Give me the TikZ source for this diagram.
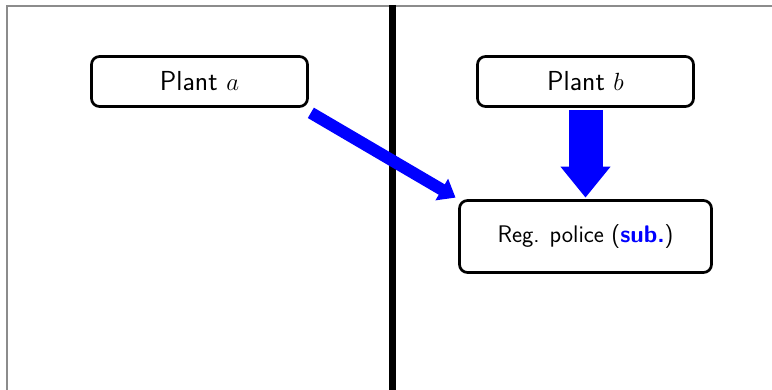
\documentclass[tikz,border=0pt]{standalone}
\usetikzlibrary{arrows.meta}
\renewcommand{\familydefault}{\sfdefault}
\begin{document}
\begin{tikzpicture}[x=1pt,y=-1pt,
  box/.style={draw=black, line width=2.7pt, rounded corners=8pt, fill=white,
              inner sep=0pt, align=center},
  plantbox/.style={box, minimum width=216pt, minimum height=50pt,
                   font=\fontsize{27.5}{33}\selectfont},
  policebox/.style={box, minimum width=252pt, minimum height=72pt,
                    font=\fontsize{24}{29}\selectfont},
  flow/.style={draw=blue, line width=12pt,
               -{Triangle[length=16pt,width=24pt]}},
  bigflow/.style={draw=blue, line width=34pt,
                  -{Triangle[length=31pt,width=48pt]}}
]
\useasboundingbox (0,0) rectangle (772,390);
% outer frame, open to the right and below
\draw[gray!90, line width=2pt] (7,390) -- (7,6) -- (772,6);
% dividing wall
\draw[black, line width=7pt] (392,5) -- (392,390);

\node[plantbox] (a) at (199.5,81.5) {Plant $a$};
\node[plantbox] (b) at (585.5,81.5) {Plant $b$};
\node[policebox] (r) at (585.5,236.5) {Reg. police (\textcolor{blue}{\textbf{sub.}})};

\draw[flow, shorten >=3pt] ([shift={(2pt,-5pt)}]a.south east) -- (r.north west);
\draw[bigflow, shorten <=2pt, shorten >=1.5pt] (b.south) -- (r.north);
\end{tikzpicture}
\end{document}
